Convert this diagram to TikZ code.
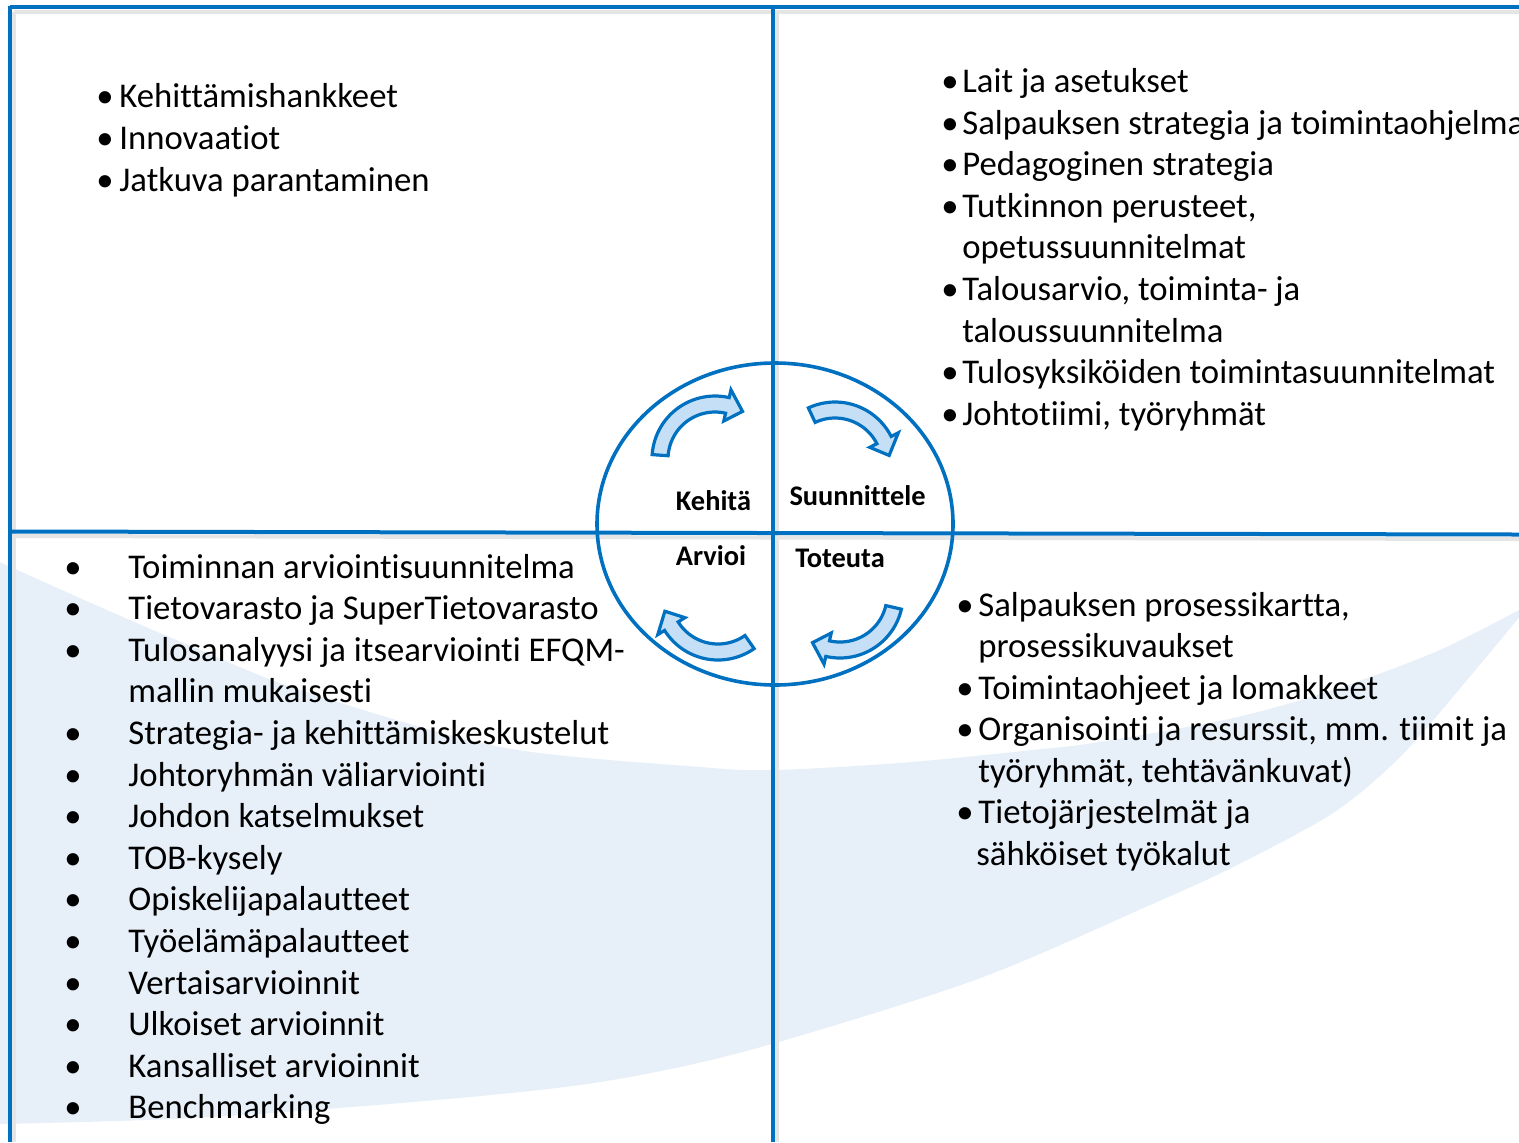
\documentclass[tikz,border=0pt]{standalone}
\usepackage{fontspec}
\setmainfont[RawFeature={-liga;-clig;-dlig}]{Carlito}
\definecolor{frameblue}{RGB}{0,112,192}
\definecolor{swooshblue}{RGB}{231,239,248}
\definecolor{arrowfill}{RGB}{197,224,246}
\newcommand\cycarrow[7]{%
  % #1,#2 centre; #3 inner r; #4 outer r; #5 start angle; #6 head base angle; #7 tip angle
  \filldraw[cycarr]
    plot[domain=#5:#6, samples=30] ({#1+#4*cos(\x)},{#2+#4*sin(\x)})
    -- ({#1+(#4+8)*cos(#6)},{#2+(#4+8)*sin(#6)})
    -- ({#1+(#3+#4)/2*cos(#7)},{#2+(#3+#4)/2*sin(#7)})
    -- ({#1+(#3-8)*cos(#6)},{#2+(#3-8)*sin(#6)})
    -- plot[domain=#6:#5, samples=30] ({#1+#3*cos(\x)},{#2+#3*sin(\x)})
    -- cycle;}
\begin{document}
\begin{tikzpicture}[x=0.5pt,y=-0.5pt,
  gridline/.style={draw=frameblue, line width=2pt},
  shade/.style={draw=black!10, line width=2pt},
  txt/.style={anchor=base west, inner sep=0pt, font=\fontsize{17.35}{20}\selectfont},
  bul/.style={anchor=base, inner sep=0pt, font=\fontsize{17.35}{20}\selectfont},
  lbl/.style={anchor=base, inner sep=0pt, font=\fontsize{14.2}{17}\selectfont\bfseries},
  cycarr/.style={draw=frameblue, line width=1.6pt, fill=arrowfill, line join=miter}]
\useasboundingbox (0,0) rectangle (1519,1142);
\fill[white] (0,0) rectangle (1519,1142);
% background swoosh
\fill[swooshblue] plot[smooth, tension=0.5] coordinates {(-5,560) (100,607) (200,650) (300,690) (500,747) (700,767) (773,770) (900,763) (1033,750) (1100,742) (1233,718) (1333,690) (1440,650) (1530,604)}
  -- plot[smooth, tension=0.5] coordinates {(1530,604) (1467,680) (1400,757) (1333,813) (1233,867) (1150,905) (975,980) (750,1050) (600,1082) (436,1100) (194,1118) (-5,1124)} -- cycle;
% shadows
\draw[shade] (14,12) -- (1519,12);
\draw[shade] (14,12) -- (14,1142);
\draw[shade] (777,12) -- (777,1142);
\draw[shade] (14,536) -- (1519,539);
% frame
\draw[gridline] (10,7) -- (1519,7);
\draw[gridline] (10,6) -- (10,1142);
\draw[gridline] (10,531.5) -- (1519,534.5);
\draw[gridline] (773,6) -- (773,1142);
% circle
\draw[draw=frameblue, line width=1.8pt] (775,524) ellipse [x radius=178, y radius=161];
% cycle arrows
\cycarrow{715}{459}{47}{63}{184}{283}{300}
\cycarrow{835}{465}{47}{63}{245}{333}{350}
\cycarrow{840}{595}{47}{63}{13}{103}{120}
\cycarrow{718}{597}{47}{63}{55}{148}{165}
% circle labels
\node[lbl] (kehita) at (713.5,510) {Kehitä};
\node[lbl] (suunn) at (857.5,505) {Suunnittele};
\node[lbl] (arvioi) at (711,565) {Arvioi};
\node[lbl] (toteuta) at (840,567) {Toteuta};
% top-left list
\node[bul] (tlb1) at (105,107.5) {•};
\node[txt] (tl1) at (119,107.5) {Kehittämishankkeet};
\node[bul] (tlb2) at (105,149.5) {•};
\node[txt] (tl2) at (119,149.5) {Innovaatiot};
\node[bul] (tlb3) at (105,191.5) {•};
\node[txt] (tl3) at (119,191.5) {Jatkuva parantaminen};
% top-right list
\node[bul] (trb1) at (950,92.5) {•};
\node[txt] (tr1) at (962,92.5) {Lait ja asetukset};
\node[bul] (trb2) at (950,134.1) {•};
\node[txt] (tr2) at (962,134.1) {Salpauksen strategia ja toimintaohjelma};
\node[bul] (trb3) at (950,175.7) {•};
\node[txt] (tr3) at (962,175.7) {Pedagoginen strategia};
\node[bul] (trb4) at (950,217.3) {•};
\node[txt] (tr4) at (962,217.3) {Tutkinnon perusteet,};
\node[txt] (tr5) at (962,258.9) {opetussuunnitelmat};
\node[bul] (trb6) at (950,300.5) {•};
\node[txt] (tr6) at (962,300.5) {Talousarvio, toiminta- ja};
\node[txt] (tr7) at (962,342.1) {taloussuunnitelma};
\node[bul] (trb8) at (950,383.7) {•};
\node[txt] (tr8) at (962,383.7) {Tulosyksiköiden toimintasuunnitelmat};
\node[bul] (trb9) at (950,425.3) {•};
\node[txt] (tr9) at (962,425.3) {Johtotiimi, työryhmät};
% bottom-left list
\node[bul] (blb1) at (73,578) {•};
\node[txt] (bl1) at (128,578) {Toiminnan arviointisuunnitelma};
\node[bul] (blb2) at (73,619.6) {•};
\node[txt] (bl2) at (128,619.6) {Tietovarasto ja SuperTietovarasto};
\node[bul] (blb3) at (73,661.2) {•};
\node[txt] (bl3) at (128,661.2) {Tulosanalyysi ja itsearviointi EFQM-};
\node[txt] (bl4) at (128,702.8) {mallin mukaisesti};
\node[bul] (blb5) at (73,744.4) {•};
\node[txt] (bl5) at (128,744.4) {Strategia- ja kehittämiskeskustelut};
\node[bul] (blb6) at (73,786) {•};
\node[txt] (bl6) at (128,786) {Johtoryhmän väliarviointi};
\node[bul] (blb7) at (73,827.6) {•};
\node[txt] (bl7) at (128,827.6) {Johdon katselmukset};
\node[bul] (blb8) at (73,869.2) {•};
\node[txt] (bl8) at (128,869.2) {TOB-kysely};
\node[bul] (blb9) at (73,910.8) {•};
\node[txt] (bl9) at (128,910.8) {Opiskelijapalautteet};
\node[bul] (blb10) at (73,952.4) {•};
\node[txt] (bl10) at (128,952.4) {Työelämäpalautteet};
\node[bul] (blb11) at (73,994) {•};
\node[txt] (bl11) at (128,994) {Vertaisarvioinnit};
\node[bul] (blb12) at (73,1035.6) {•};
\node[txt] (bl12) at (128,1035.6) {Ulkoiset arvioinnit};
\node[bul] (blb13) at (73,1077.2) {•};
\node[txt] (bl13) at (128,1077.2) {Kansalliset arvioinnit};
\node[bul] (blb14) at (73,1118.8) {•};
\node[txt] (bl14) at (128,1118.8) {Benchmarking};
% bottom-right list
\node[bul] (brb1) at (965,616) {•};
\node[txt] (br1) at (978,616) {Salpauksen prosessikartta,};
\node[txt] (br2) at (978,657.5) {prosessikuvaukset};
\node[bul] (brb3) at (965,699) {•};
\node[txt] (br3) at (978,699) {Toimintaohjeet ja lomakkeet};
\node[bul] (brb4) at (965,740.5) {•};
\node[txt] (br4) at (978,740.5) {Organisointi ja resurssit, mm. tiimit ja};
\node[txt] (br5) at (978,782) {työryhmät, tehtävänkuvat)};
\node[bul] (brb6) at (965,823.5) {•};
\node[txt] (br6) at (978,823.5) {Tietojärjestelmät ja};
\node[txt] (br7) at (976,865) {sähköiset työkalut};
\end{tikzpicture}
\end{document}
